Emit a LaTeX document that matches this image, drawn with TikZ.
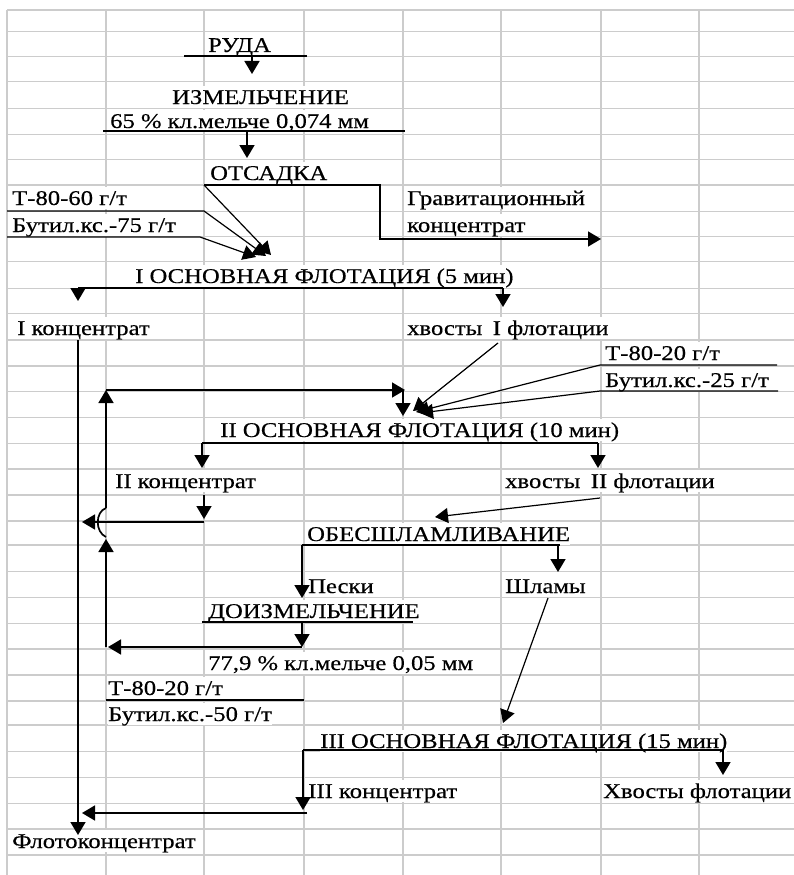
\documentclass[tikz,border=0pt]{standalone}
\usepackage{fontspec}
\setmainfont{Liberation Serif}[FakeStretch=1.175,FakeBold=0.4]
\usetikzlibrary{arrows.meta}
\begin{document}
\begin{tikzpicture}[x=1pt,y=-1pt,
  font=\fontsize{21}{24}\selectfont,
  gridline/.style={draw={rgb,255:red,204;green,204;blue,204}, line width=1.5pt},
  lbl/.style={anchor=base west, inner sep=0pt, fill=white, text height=18pt, text depth=3.5pt},
  ln/.style={line width=1.7pt, draw=black},
  arr/.style={ln, -{Triangle[length=13pt,width=15pt]}},
  darr/.style={line width=1.2pt, draw=black, -{Triangle[length=13pt,width=15pt]}}]
\useasboundingbox (0,0) rectangle (794,875);
\fill[white] (0,0) rectangle (794,875);
% spreadsheet grid
\foreach \gx in {7,106,204,304,403,501,601,699}
  \draw[gridline] (\gx,10) -- (\gx,875);
\foreach \gy in {10,31.7,56.7,81.7,108.3,134.3,159.3,185,211.7,236.7,261.7,288.3,313.3,340,366,391.7,417.3,443.3,469,495,521,545,571.7,597.3,623.3,649,675,701,725,751.7,777.3,803.3,829,855}
  \draw[gridline] (7,\gy) -- (794,\gy);
% texts
\node[lbl] (ruda) at (208,52) {РУДА};
\node[lbl] (izm) at (172,104) {ИЗМЕЛЬЧЕНИЕ};
\node[lbl] (izmt) at (110,128) {65 \% кл.мельче 0,074 мм};
\node[lbl] (ots) at (210,180) {ОТСАДКА};
\node[lbl] (t1) at (12,205) {Т-80-60 г/т};
\node[lbl] (b1) at (12,232) {Бутил.кс.-75 г/т};
\node[lbl] (grav1) at (407,205) {Гравитационный};
\node[lbl] (grav2) at (407,232) {концентрат};
\node[lbl] (f1) at (135,283) {I ОСНОВНАЯ ФЛОТАЦИЯ (5 мин)};
\node[lbl] (c1) at (17,335) {I концентрат};
\node[lbl] (x1) at (407,335) {хвосты\hspace{0.5em}I флотации};
\node[lbl] (t2) at (605,360) {Т-80-20 г/т};
\node[lbl] (b2) at (605,387) {Бутил.кс.-25 г/т};
\node[lbl] (f2) at (220,437) {II ОСНОВНАЯ ФЛОТАЦИЯ (10 мин)};
\node[lbl] (c2) at (115,488) {II концентрат};
\node[lbl] (x2) at (505,488) {хвосты\hspace{0.5em}II флотации};
\node[lbl] (obs) at (307,541) {ОБЕСШЛАМЛИВАНИЕ};
\node[lbl] (pes) at (308,593) {Пески};
\node[lbl] (shl) at (505,593) {Шламы};
\node[lbl] (doi) at (208,618) {ДОИЗМЕЛЬЧЕНИЕ};
\node[lbl] (doit) at (208,670) {77,9 \% кл.мельче 0,05 мм};
\node[lbl] (t3) at (108,695) {Т-80-20 г/т};
\node[lbl] (b3) at (108,721) {Бутил.кс.-50 г/т};
\node[lbl] (f3) at (320,748) {III ОСНОВНАЯ ФЛОТАЦИЯ (15 мин)};
\node[lbl] (c3) at (308,798) {III концентрат};
\node[lbl] (xf) at (603,798) {Хвосты флотации};
\node[lbl] (fk) at (12,848) {Флотоконцентрат};
% connector coordinates
\coordinate (rudaL) at (184,56); \coordinate (rudaR) at (307,56);
\coordinate (rudaA) at (252,56); \coordinate (izmIn) at (252,74);
\coordinate (izmL) at (103,131); \coordinate (izmR) at (405,131);
\coordinate (izmA) at (247,131); \coordinate (otsIn) at (247,158);
\coordinate (otsL) at (204,185); \coordinate (otsR) at (380,185);
\coordinate (otsD) at (380,239); \coordinate (gravIn) at (601,239);
\coordinate (t1L) at (7,211); \coordinate (t1R) at (204,211);
\coordinate (b1L) at (7,237); \coordinate (b1R) at (200,237);
\coordinate (f1InA) at (271,255); \coordinate (f1InB) at (266,256); \coordinate (f1InC) at (256,257);
\coordinate (f1L) at (78,288); \coordinate (f1R) at (503,288);
\coordinate (c1In) at (78,301); \coordinate (x1In) at (503,307);
\coordinate (c1Out) at (78,340); \coordinate (fkIn) at (78,835);
\coordinate (x1Out) at (498,343); \coordinate (f2InA) at (413,411);
\coordinate (t2R) at (777,365); \coordinate (t2L) at (600,365); \coordinate (f2InB) at (416,412);
\coordinate (b2R) at (778,391); \coordinate (b2L) at (600,391); \coordinate (f2InC) at (420,413);
\coordinate (hopT) at (106,508); \coordinate (hopB) at (106,537);
\coordinate (loopC) at (106,390); \coordinate (loopR) at (405,390);
\coordinate (loopD) at (403,390); \coordinate (f2InD) at (403,416);
\coordinate (f2L) at (202,443); \coordinate (f2R) at (598,443);
\coordinate (c2In) at (202,468); \coordinate (x2In) at (598,468);
\coordinate (c2Out) at (204,495); \coordinate (c2Dn) at (204,519);
\coordinate (c2H) at (204,522); \coordinate (c2Tip) at (82,522);
\coordinate (x2Out) at (600,498); \coordinate (obsIn) at (435,517);
\coordinate (obsL) at (302,545); \coordinate (obsR) at (560,545);
\coordinate (shlA) at (558,545); \coordinate (shlIn) at (558,572);
\coordinate (pesIn) at (302,598);
\coordinate (doiL) at (202,622); \coordinate (doiR) at (413,622);
\coordinate (doiA) at (302,622); \coordinate (doiOut) at (302,647);
\coordinate (retTip) at (108,647); \coordinate (retUp) at (106,647); \coordinate (retTop) at (106,539);
\coordinate (t3L) at (106,700); \coordinate (t3R) at (304,700);
\coordinate (shlOut) at (548,598); \coordinate (f3In) at (503,723);
\coordinate (f3L) at (303,750); \coordinate (f3R) at (723,750);
\coordinate (xfIn) at (723,775); \coordinate (c3In) at (303,810);
\coordinate (c3Out) at (307,813); \coordinate (c3Tip) at (82,813);
% connectors
\draw[ln] (rudaL) -- (rudaR);
\draw[arr] (rudaA) -- (izmIn);
\draw[ln] (izmL) -- (izmR);
\draw[arr] (izmA) -- (otsIn);
\draw[arr] (otsL) -- (otsR) -- (otsD) -- (gravIn);
\draw[darr] (otsL) -- (f1InA);
\draw[darr] (t1L) -- (t1R) -- (f1InB);
\draw[darr] (b1L) -- (b1R) -- (f1InC);
\draw[ln] (f1L) -- (f1R);
\draw[arr] (f1L) -- (c1In);
\draw[arr] (f1R) -- (x1In);
\draw[arr] (c1Out) -- (fkIn);
\draw[darr] (x1Out) -- (f2InA);
\draw[darr] (t2R) -- (t2L) -- (f2InB);
\draw[darr] (b2R) -- (b2L) -- (f2InC);
\draw[arr] (hopT) -- (loopC);
\draw[arr] (loopC) -- (loopR);
\draw[arr] (loopD) -- (f2InD);
\draw[ln] (hopT) .. controls (95,512) and (95,532) .. (hopB);
\draw[ln] (f2L) -- (f2R);
\draw[arr] (f2L) -- (c2In);
\draw[arr] (f2R) -- (x2In);
\draw[arr] (c2Out) -- (c2Dn);
\draw[arr] (c2H) -- (c2Tip);
\draw[darr] (x2Out) -- (obsIn);
\draw[ln] (obsL) -- (obsR);
\draw[arr] (shlA) -- (shlIn);
\draw[arr] (obsL) -- (pesIn);
\draw[ln] (doiL) -- (doiR);
\draw[arr] (doiA) -- (doiOut);
\draw[arr] (doiOut) -- (retTip);
\draw[arr] (retUp) -- (retTop);
\draw[ln] (t3L) -- (t3R);
\draw[darr] (shlOut) -- (f3In);
\draw[ln] (f3L) -- (f3R);
\draw[arr] (f3R) -- (xfIn);
\draw[arr] (f3L) -- (c3In);
\draw[arr] (c3Out) -- (c3Tip);
\end{tikzpicture}
\end{document}
